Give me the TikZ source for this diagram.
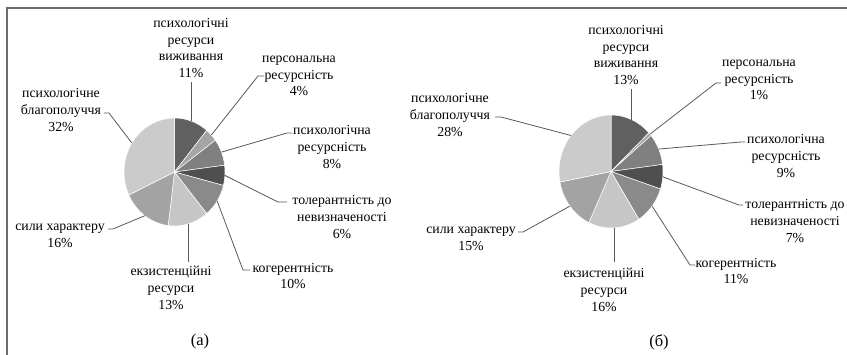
\documentclass[tikz,border=0pt]{standalone}
\usepackage{fontspec}
\setmainfont{Liberation Serif}
\begin{document}
\begin{tikzpicture}[x=1pt,y=1pt,
  lab/.style={align=center,inner sep=0pt,font=\fontsize{13.8}{16.8}\selectfont,text=black},
  captext/.style={inner sep=0pt,font=\fontsize{16.5}{19}\selectfont,text=black},
  leader/.style={draw=black!65,line width=0.8pt},
  slice/.style={draw=white,line width=0.5pt}]
\useasboundingbox (0,0) rectangle (847,-355);
\definecolor{cA}{HTML}{606060}
\definecolor{cB}{HTML}{A5A5A5}
\definecolor{cC}{HTML}{808080}
\definecolor{cD}{HTML}{4F4F4F}
\definecolor{cE}{HTML}{8A8A8A}
\definecolor{cF}{HTML}{C6C6C6}
\definecolor{cG}{HTML}{A3A3A3}
\definecolor{cH}{HTML}{CBCBCB}
% frame
\coordinate (fr1) at (847,-8);
\coordinate (fr2) at (7,-8);
\coordinate (fr3) at (7,-355);
\draw[draw=black!58,line width=1.6pt] (fr1) -- (fr2) -- (fr3);

% ---------------- pie (a) ----------------
\begin{scope}[shift={(174.5,-172)}]
\def\rx{50.5}\def\ry{54}
\coordinate (ca) at (0,0);
\foreach \a/\b/\c in {90/50.4/cA, 50.4/36/cB, 36/7.2/cC, 7.2/-14.4/cD, -14.4/-50.4/cE, -50.4/-97.2/cF, -97.2/-154.8/cG, -154.8/-270/cH}{
  \filldraw[slice,fill=\c] (ca) -- (\a:\rx pt and \ry pt) arc[start angle=\a,end angle=\b,x radius=\rx pt,y radius=\ry pt] -- cycle;
}
\coordinate (a1) at (70.2:\rx pt and \ry pt);
\coordinate (a2) at (43.2:\rx pt and \ry pt);
\coordinate (a3) at (21.6:\rx pt and \ry pt);
\coordinate (a4) at (-3.6:\rx pt and \ry pt);
\coordinate (a5) at (-32.4:\rx pt and \ry pt);
\coordinate (a6) at (-73.8:\rx pt and \ry pt);
\coordinate (a7) at (-126:\rx pt and \ry pt);
\coordinate (a8) at (147.6:\rx pt and \ry pt);
\end{scope}

\node[lab] (la1) at (191,-48) {психологічні\\ресурси\\виживання\\11\%};
\node[lab] (la2) at (299,-76) {персональна\\ресурсність\\4\%};
\node[lab] (la3) at (332,-147) {психологічна\\ресурсність\\8\%};
\node[lab] (la4) at (342,-217) {толерантність до\\невизначеності\\6\%};
\node[lab] (la5) at (293,-276) {когерентність\\10\%};
\node[lab] (la6) at (171,-288) {екзистенційні\\ресурси\\13\%};
\node[lab] (la7) at (60,-236) {сили характеру\\16\%};
\node[lab] (la8) at (61,-110) {психологічне\\благополуччя\\32\%};
\node[captext] (capa) at (200,-342) {(а)};

\coordinate (ea1) at (a1 |- 0,-82);
\coordinate (ka2) at (258,-76); \coordinate (ta2) at (264,-76);
\coordinate (ka3) at (287,-133); \coordinate (ta3) at (292,-133);
\coordinate (ka4) at (278,-202); \coordinate (ta4) at (287,-202);
\coordinate (ka5) at (243,-270); \coordinate (ta5) at (250,-270);
\coordinate (ea6) at (a6 |- 0,-262);
\coordinate (ka7) at (113,-229); \coordinate (ta7) at (108,-229);
\coordinate (ka8) at (109,-113); \coordinate (ta8) at (104,-113);
\draw[leader] (a1) -- (ea1);
\draw[leader] (a2) -- (ka2) -- (ta2);
\draw[leader] (a3) -- (ka3) -- (ta3);
\draw[leader] (a4) -- (ka4) -- (ta4);
\draw[leader] (a5) -- (ka5) -- (ta5);
\draw[leader] (a6) -- (ea6);
\draw[leader] (a7) -- (ka7) -- (ta7);
\draw[leader] (a8) -- (ka8) -- (ta8);

% ---------------- pie (b) ----------------
\begin{scope}[shift={(611,-171.5)}]
\def\rx{52}\def\ry{56.5}
\coordinate (cb) at (0,0);
\foreach \a/\b/\c in {90/43.2/cA, 43.2/39.6/cB, 39.6/7.2/cC, 7.2/-18/cD, -18/-57.6/cE, -57.6/-115.2/cF, -115.2/-169.2/cG, -169.2/-270/cH}{
  \filldraw[slice,fill=\c] (cb) -- (\a:\rx pt and \ry pt) arc[start angle=\a,end angle=\b,x radius=\rx pt,y radius=\ry pt] -- cycle;
}
\coordinate (b1) at (66.6:\rx pt and \ry pt);
\coordinate (b2) at (41.4:\rx pt and \ry pt);
\coordinate (b3) at (23.4:\rx pt and \ry pt);
\coordinate (b4) at (-5.4:\rx pt and \ry pt);
\coordinate (b5) at (-37.8:\rx pt and \ry pt);
\coordinate (b6) at (-86.4:\rx pt and \ry pt);
\coordinate (b7) at (-142.2:\rx pt and \ry pt);
\coordinate (b8) at (140.4:\rx pt and \ry pt);
\end{scope}

\node[lab] (lb1) at (626,-55) {психологічні\\ресурси\\виживання\\13\%};
\node[lab] (lb2) at (759,-80) {персональна\\ресурсність\\1\%};
\node[lab] (lb3) at (786,-156) {психологічна\\ресурсність\\9\%};
\node[lab] (lb4) at (795,-221) {толерантність до\\невизначеності\\7\%};
\node[lab] (lb5) at (736,-271) {когерентність\\11\%};
\node[lab] (lb6) at (604,-290) {екзистенційні\\ресурси\\16\%};
\node[lab] (lb7) at (471,-239) {сили характеру\\15\%};
\node[lab] (lb8) at (450,-115) {психологічне\\благополуччя\\28\%};
\node[captext] (capb) at (659,-342) {(б)};

\coordinate (eb1) at (b1 |- 0,-89);
\coordinate (kb2) at (716,-83); \coordinate (tb2) at (721,-83);
\coordinate (kb3) at (741,-142); \coordinate (tb3) at (745,-142);
\coordinate (kb4) at (739,-205); \coordinate (tb4) at (743,-205);
\coordinate (kb5) at (690,-265); \coordinate (tb5) at (695,-265);
\coordinate (eb6) at (b6 |- 0,-262);
\coordinate (kb7) at (523,-232); \coordinate (tb7) at (518,-232);
\coordinate (kb8) at (501,-117); \coordinate (tb8) at (495,-117);
\draw[leader] (b1) -- (eb1);
\draw[leader] (b2) -- (kb2) -- (tb2);
\draw[leader] (b3) -- (kb3) -- (tb3);
\draw[leader] (b4) -- (kb4) -- (tb4);
\draw[leader] (b5) -- (kb5) -- (tb5);
\draw[leader] (b6) -- (eb6);
\draw[leader] (b7) -- (kb7) -- (tb7);
\draw[leader] (b8) -- (kb8) -- (tb8);
\end{tikzpicture}
\end{document}
